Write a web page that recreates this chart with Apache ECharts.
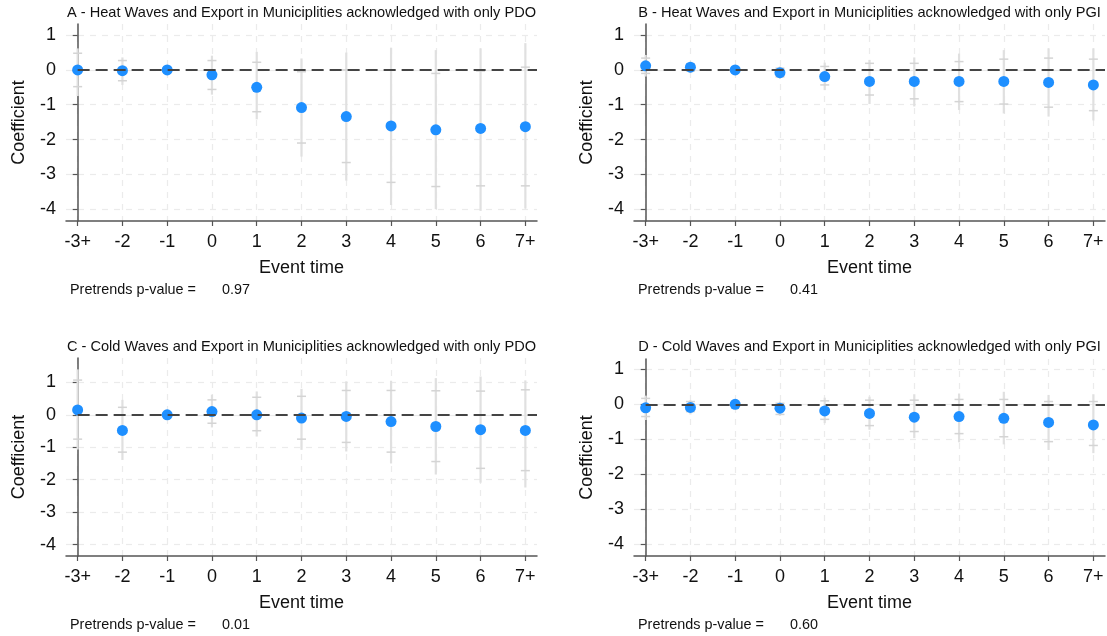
<!DOCTYPE html>
<html>
<head>
<meta charset="utf-8">
<script src="https://cdn.jsdelivr.net/npm/echarts@6/dist/echarts.min.js"></script>
<style>
html, body { margin: 0; padding: 0; background: #fff; }
#chart { width: 1107px; height: 636px; }
</style>
</head>
<body>
<div id="chart"></div>
<script>
// event time categories
var eventLabels = ['-3+', '-2', '-1', '0', '1', '2', '3', '4', '5', '6', '7+'];
var yTicks = [-4, -3, -2, -1, 0, 1];

// A - heat waves, only PDO
var coefA    = [0.00, -0.02, 0, -0.14, -0.50, -1.08, -1.34, -1.61, -1.72, -1.68, -1.63];
var capHiA   = [0.48, 0.27, null, 0.27, 0.22, -0.05, 0.00, 0.00, -0.10, -0.03, 0.08];
var capLoA   = [-0.48, -0.31, null, -0.56, -1.20, -2.10, -2.66, -3.23, -3.35, -3.33, -3.33];
var lineHiA  = [0.62, 0.36, null, 0.41, 0.52, 0.33, 0.50, 0.64, 0.57, 0.62, 0.77];
var lineLoA  = [-0.75, -0.43, null, -0.71, -1.42, -2.49, -3.18, -3.88, -4.00, -4.05, -3.98];

// B - heat waves, only PGI
var coefB    = [0.12, 0.08, 0, -0.08, -0.19, -0.33, -0.33, -0.33, -0.33, -0.36, -0.43];
var capHiB   = [0.34, 0.18, null, 0.05, 0.10, 0.19, 0.19, 0.24, 0.31, 0.34, 0.31];
var capLoB   = [-0.10, -0.03, null, -0.20, -0.43, -0.72, -0.83, -0.91, -0.98, -1.07, -1.17];
var lineHiB  = [0.43, 0.24, null, 0.10, 0.21, 0.29, 0.36, 0.47, 0.57, 0.62, 0.62];
var lineLoB  = [-0.19, -0.09, null, -0.26, -0.58, -0.98, -1.05, -1.15, -1.25, -1.34, -1.45];

// C - cold waves, only PDO
var coefC    = [0.15, -0.48, 0, 0.10, 0.00, -0.10, -0.05, -0.21, -0.36, -0.46, -0.48];
var capHiC   = [1.07, 0.23, null, 0.46, 0.54, 0.57, 0.75, 0.75, 0.74, 0.73, 0.77];
var capLoC   = [-0.75, -1.15, null, -0.26, -0.49, -0.75, -0.85, -1.15, -1.44, -1.65, -1.72];
var lineHiC  = [1.40, 0.46, null, 0.62, 0.72, 0.80, 1.03, 1.05, 1.13, 1.18, 1.06];
var lineLoC  = [-1.07, -1.39, null, -0.39, -0.67, -1.08, -1.13, -1.50, -1.84, -2.09, -2.24];

// D - cold waves, only PGI
var coefD    = [-0.10, -0.09, 0, -0.11, -0.19, -0.26, -0.37, -0.35, -0.40, -0.52, -0.59];
var capHiD   = [0.17, 0.08, null, 0.03, 0.10, 0.12, 0.12, 0.14, 0.14, 0.08, 0.08];
var capLoD   = [-0.35, -0.21, null, -0.29, -0.43, -0.61, -0.78, -0.84, -0.93, -1.07, -1.18];
var lineHiD  = [0.25, 0.12, null, 0.08, 0.19, 0.22, 0.29, 0.31, 0.36, 0.27, 0.29];
var lineLoD  = [-0.45, -0.29, null, -0.33, -0.54, -0.73, -0.97, -1.09, -1.15, -1.31, -1.40];

var titles = [
  'A - Heat Waves and Export in Municiplities acknowledged with only PDO',
  'B - Heat Waves and Export in Municiplities acknowledged with only PGI',
  'C - Cold Waves and Export in Municiplities acknowledged with only PDO',
  'D - Cold Waves and Export in Municiplities acknowledged with only PGI'
];
var pValues = ['0.97', '0.41', '0.01', '0.60'];

var panels = [
  { coef: coefA, capHi: capHiA, capLo: capLoA, lineHi: lineHiA, lineLo: lineLoA, left: 66,  top: 24,  yMin: -4.34, yMax: 1.32 },
  { coef: coefB, capHi: capHiB, capLo: capLoB, lineHi: lineHiB, lineLo: lineLoB, left: 634, top: 24,  yMin: -4.34, yMax: 1.32 },
  { coef: coefC, capHi: capHiC, capLo: capLoC, lineHi: lineHiC, lineLo: lineLoC, left: 66,  top: 358, yMin: -4.35, yMax: 1.75 },
  { coef: coefD, capHi: capHiD, capLo: capLoD, lineHi: lineHiD, lineLo: lineLoD, left: 634, top: 359, yMin: -4.35, yMax: 1.30 }
];

var xMin = -0.26, xMax = 10.26;
var plotW = 471, plotBottom = [221, 221, 556, 556];
var idx = eventLabels.map(function (l, i) { return i; });
var font = '"Liberation Sans", Arial, sans-serif';

function renderCI(params, api) {
  var x = api.value(0);
  var l1 = api.coord([x, api.value(1)]);
  var l2 = api.coord([x, api.value(2)]);
  var c1 = api.coord([x, api.value(3)]);
  var c2 = api.coord([x, api.value(4)]);
  var capStyle = { stroke: '#d4d4d4', lineWidth: 1.5 };
  return {
    type: 'group',
    children: [
      { type: 'line', shape: { x1: l1[0], y1: l1[1], x2: l2[0], y2: l2[1] }, style: { stroke: '#e0e0e0', lineWidth: 2.2 } },
      { type: 'line', shape: { x1: c1[0] - 4.5, y1: c1[1], x2: c1[0] + 4.5, y2: c1[1] }, style: capStyle },
      { type: 'line', shape: { x1: c2[0] - 4.5, y1: c2[1], x2: c2[0] + 4.5, y2: c2[1] }, style: capStyle }
    ]
  };
}

var grids = [], xAxes = [], yAxes = [], series = [], graphics = [];

panels.forEach(function (p, k) {
  grids.push({ left: p.left, top: p.top, width: plotW, height: plotBottom[k] - p.top });

  xAxes.push({
    type: 'value', gridIndex: k, min: xMin, max: xMax,
    name: 'Event time', nameLocation: 'middle', nameGap: 38,
    nameTextStyle: { fontSize: 18, color: '#111', fontFamily: font },
    axisLine: { onZero: false, lineStyle: { color: '#555', width: 1.5 } },
    axisTick: { customValues: idx, length: 5, lineStyle: { color: '#555', width: 1.2 } },
    axisLabel: {
      customValues: idx, margin: 12, fontSize: 18, color: '#111', fontFamily: font,
      formatter: function (v) { return eventLabels[v]; }
    },
    splitLine: { show: true, lineStyle: { color: '#ebebeb', type: [6, 6], width: 1.2 } }
  });

  yAxes.push({
    type: 'value', gridIndex: k, min: p.yMin, max: p.yMax,
    name: 'Coefficient', nameLocation: 'middle', nameGap: 38,
    nameTextStyle: { fontSize: 18, color: '#111', fontFamily: font },
    axisLine: { show: true, lineStyle: { color: '#555', width: 1.5 } },
    axisTick: { show: true, customValues: yTicks, length: 5, lineStyle: { color: '#555', width: 1.2 } },
    axisLabel: { customValues: yTicks, margin: 10, fontSize: 18, color: '#111', fontFamily: font },
    splitLine: { show: true, lineStyle: { color: '#ebebeb', type: [6, 6], width: 1.2 } }
  });

  var ciData = [];
  var ptData = [];
  p.coef.forEach(function (c, i) {
    ptData.push([i, c]);
    if (p.lineLo[i] !== null) {
      ciData.push([i, p.lineLo[i], p.lineHi[i], p.capLo[i], p.capHi[i]]);
    }
  });

  series.push({
    type: 'custom', xAxisIndex: k, yAxisIndex: k, z: 2,
    renderItem: renderCI, data: ciData,
    encode: { x: 0, y: [1, 2, 3, 4] }, silent: true
  });
  series.push({
    type: 'line', xAxisIndex: k, yAxisIndex: k, z: 3, data: [], silent: true,
    markLine: {
      symbol: 'none', silent: true, label: { show: false },
      lineStyle: { color: '#444', type: [12, 6], width: 2 },
      data: [[{ coord: [0, 0] }, { coord: [xMax, 0] }]]
    }
  });
  series.push({
    type: 'scatter', xAxisIndex: k, yAxisIndex: k, z: 4,
    symbolSize: 11, itemStyle: { color: '#1e8fff', opacity: 1 },
    data: ptData
  });

  var cx = p.left + plotW / 2;
  graphics.push({
    type: 'text', x: cx, y: p.top < 100 ? 13 : 347,
    style: { text: titles[k], font: '14.6px ' + font, fill: '#111', textAlign: 'center', textVerticalAlign: 'middle' }
  });
  var py = p.top < 100 ? 290 : 625;
  graphics.push({
    type: 'text', x: p.left + 4, y: py,
    style: { text: 'Pretrends p-value =', font: '14.4px ' + font, fill: '#111', textVerticalAlign: 'middle' }
  });
  graphics.push({
    type: 'text', x: p.left + 156, y: py,
    style: { text: pValues[k], font: '14.4px ' + font, fill: '#111', textVerticalAlign: 'middle' }
  });
});

var chart = echarts.init(document.getElementById('chart'));
chart.setOption({
  animation: false,
  backgroundColor: '#fff',
  grid: grids,
  xAxis: xAxes,
  yAxis: yAxes,
  series: series,
  graphic: graphics
});
</script>
</body>
</html>
